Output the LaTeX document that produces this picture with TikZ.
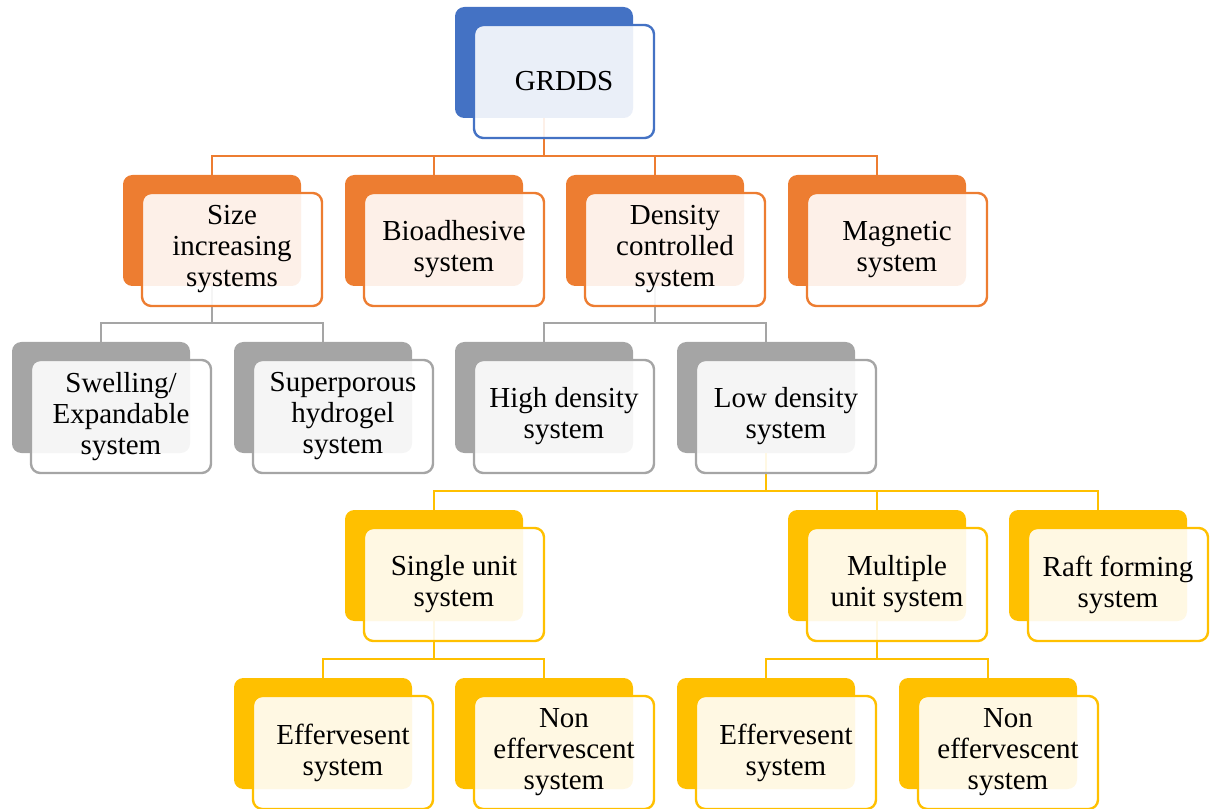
\documentclass[tikz,border=0pt]{standalone}
\usepackage{fontspec}
\setmainfont{Liberation Serif}
\usepackage{tikz}
\definecolor{rootblue}{RGB}{68, 114, 196}
\definecolor{branchorange}{RGB}{237, 125, 49}
\definecolor{branchgray}{RGB}{165, 165, 165}
\definecolor{branchgold}{RGB}{255, 192, 0}
\newcommand{\boxfont}{\fontsize{21.75}{23.25}\selectfont}

\begin{document}
\begin{tikzpicture}[
    x=0.75pt, y=-0.75pt,
    back/.style={rectangle, rounded corners=7pt, inner sep=0pt,
                 minimum width=133.5pt, minimum height=83.25pt},
    front/.style={rectangle, rounded corners=7pt, line width=1.8pt, fill=white,
                  fill opacity=0.89, text opacity=1, inner sep=0pt,
                  minimum width=135pt, minimum height=84.75pt,
                  align=center, font=\boxfont, xshift=15pt, yshift=-14.25pt},
    link/.style={line width=1.8pt},
]
    \useasboundingbox (0,0) rectangle (1218,809);
    \clip (0,0) rectangle (1218,809);

    % Back boxes
    \node[back, fill=rootblue] (grdds-b) at (544,62.5) {};

    \node[back, fill=branchorange] (size-b) at (212,230.5) {};
    \node[back, fill=branchorange] (bio-b) at (434,230.5) {};
    \node[back, fill=branchorange] (dens-b) at (655,230.5) {};
    \node[back, fill=branchorange] (mag-b) at (877,230.5) {};

    \node[back, fill=branchgray] (swell-b) at (101,397.5) {};
    \node[back, fill=branchgray] (super-b) at (323,397.5) {};
    \node[back, fill=branchgray] (high-b) at (544,397.5) {};
    \node[back, fill=branchgray] (low-b) at (766,397.5) {};

    \node[back, fill=branchgold] (single-b) at (434,565.5) {};
    \node[back, fill=branchgold] (multi-b) at (877,565.5) {};
    \node[back, fill=branchgold] (raft-b) at (1098,565.5) {};

    \node[back, fill=branchgold] (sefferv-b) at (323,733.5) {};
    \node[back, fill=branchgold] (snoneff-b) at (544,733.5) {};
    \node[back, fill=branchgold] (mefferv-b) at (766,733.5) {};
    \node[back, fill=branchgold] (mnoneff-b) at (988,733.5) {};

    % Connectors
    \coordinate (bus1) at (544,156);
    \draw[link, branchorange] (grdds-b.south) -- (bus1);
    \draw[link, branchorange] (bus1) -| (size-b.north);
    \draw[link, branchorange] (bus1) -| (bio-b.north);
    \draw[link, branchorange] (bus1) -| (dens-b.north);
    \draw[link, branchorange] (bus1) -| (mag-b.north);

    \coordinate (bus2a) at (212,323);
    \draw[link, branchgray] (size-b.south) -- (bus2a);
    \draw[link, branchgray] (bus2a) -| (swell-b.north);
    \draw[link, branchgray] (bus2a) -| (super-b.north);

    \coordinate (bus2b) at (655,323);
    \draw[link, branchgray] (dens-b.south) -- (bus2b);
    \draw[link, branchgray] (bus2b) -| (high-b.north);
    \draw[link, branchgray] (bus2b) -| (low-b.north);

    \coordinate (bus3) at (766,491);
    \draw[link, branchgold] (low-b.south) -- (bus3);
    \draw[link, branchgold] (bus3) -| (single-b.north);
    \draw[link, branchgold] (bus3) -| (multi-b.north);
    \draw[link, branchgold] (bus3) -| (raft-b.north);

    \coordinate (bus4a) at (434,659);
    \draw[link, branchgold] (single-b.south) -- (bus4a);
    \draw[link, branchgold] (bus4a) -| (sefferv-b.north);
    \draw[link, branchgold] (bus4a) -| (snoneff-b.north);

    \coordinate (bus4b) at (877,659);
    \draw[link, branchgold] (multi-b.south) -- (bus4b);
    \draw[link, branchgold] (bus4b) -| (mefferv-b.north);
    \draw[link, branchgold] (bus4b) -| (mnoneff-b.north);

    % Front boxes with labels
    \node[front, draw=rootblue] (grdds) at (grdds-b) {GRDDS};

    \node[front, draw=branchorange] (size) at (size-b) {Size\\increasing\\systems};
    \node[front, draw=branchorange] (bio) at (bio-b) {Bioadhesive\\system};
    \node[front, draw=branchorange] (dens) at (dens-b) {Density\\controlled\\system};
    \node[front, draw=branchorange] (mag) at (mag-b) {Magnetic\\system};

    \node[front, draw=branchgray] (swell) at (swell-b) {Swelling/\\Expandable\\system};
    \node[front, draw=branchgray] (super) at (super-b) {Superporous\\hydrogel\\system};
    \node[front, draw=branchgray] (high) at (high-b) {High density\\system};
    \node[front, draw=branchgray] (low) at (low-b) {Low density\\system};

    \node[front, draw=branchgold] (single) at (single-b) {Single unit\\system};
    \node[front, draw=branchgold] (multi) at (multi-b) {Multiple\\unit system};
    \node[front, draw=branchgold] (raft) at (raft-b) {Raft forming\\system};

    \node[front, draw=branchgold] (sefferv) at (sefferv-b) {Effervesent\\system};
    \node[front, draw=branchgold] (snoneff) at (snoneff-b) {Non\\effervescent\\system};
    \node[front, draw=branchgold] (mefferv) at (mefferv-b) {Effervesent\\system};
    \node[front, draw=branchgold] (mnoneff) at (mnoneff-b) {Non\\effervescent\\system};
\end{tikzpicture}
\end{document}
